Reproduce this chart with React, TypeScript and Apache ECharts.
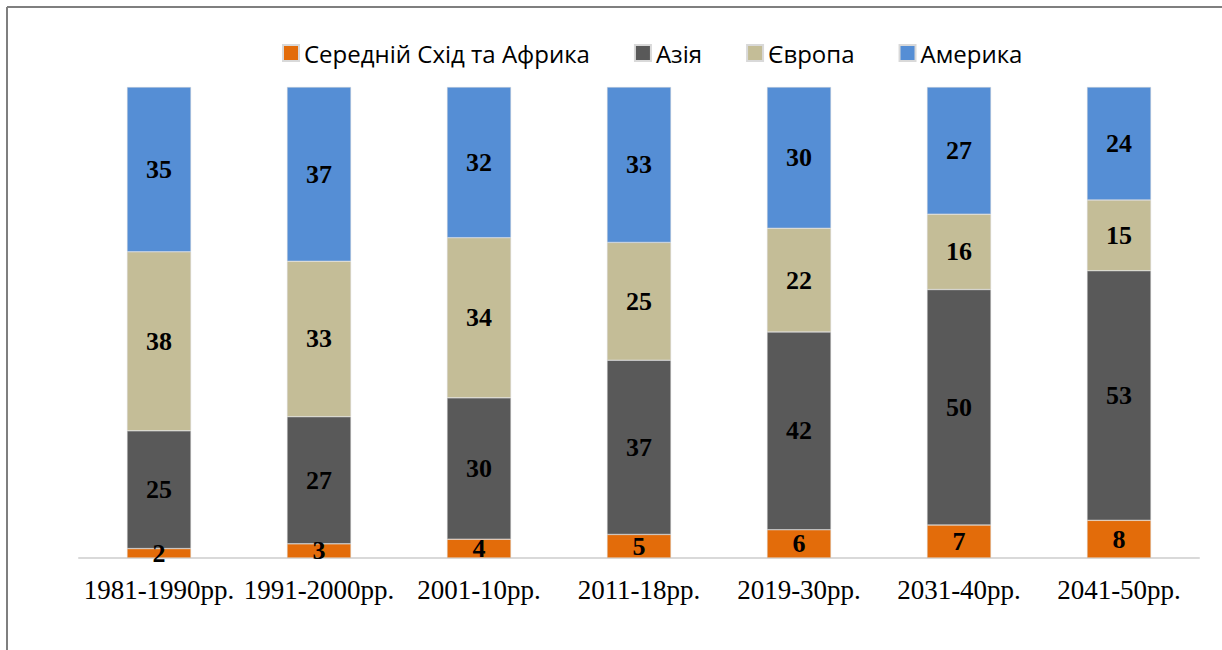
import React, { useEffect, useRef } from "react";
import * as echarts from "echarts";

const categories = ["1981-1990рр.", "1991-2000рр.", "2001-10рр.", "2011-18рр.", "2019-30рр.", "2031-40рр.", "2041-50рр."];
const middleEastAfrica = [2, 3, 4, 5, 6, 7, 8];
const asia = [25, 27, 30, 37, 42, 50, 53];
const europe = [38, 33, 34, 25, 22, 16, 15];
const america = [35, 37, 32, 33, 30, 27, 24];

const seriesNames = ["Середній Схід та Африка", "Азія", "Європа", "Америка"];
const seriesData = [middleEastAfrica, asia, europe, america];
const colors = ["#E36C0A", "#595959", "#C4BD97", "#558ED5"];

export default function App() {
  const ref = useRef<HTMLDivElement>(null);
  useEffect(() => {
    const chart = echarts.init(ref.current!, null, { renderer: "svg" });
    chart.setOption({
      animation: false,
      color: colors,
      legend: {
        top: 36,
        left: 277,
        itemWidth: 16,
        itemHeight: 16,
        itemGap: 44,
        icon: "rect",
        textStyle: { fontFamily: "Open Sans", fontSize: 24, color: "#000" },
        data: seriesNames,
      },
      grid: { left: 79, right: 23, top: 87, bottom: 92, containLabel: false },
      xAxis: {
        type: "category",
        data: categories,
        axisLine: { lineStyle: { color: "#D9D9D9", width: 2 } },
        axisTick: { show: false },
        axisLabel: { interval: 0, fontFamily: "Liberation Serif", fontSize: 27, color: "#000", margin: 18 },
      },
      yAxis: { type: "value", min: 0, max: 100, show: false },
      series: seriesNames.map((name, i) => ({
        name,
        type: "bar",
        stack: "total",
        barWidth: "40%",
        data: seriesData[i],
        itemStyle: { borderColor: "#D9D9D9", borderWidth: 0.5 },
        label: {
          show: true,
          position: "inside",
          fontFamily: "Liberation Serif",
          fontWeight: "bold",
          fontSize: 26,
          color: "#000",
        },
      })),
      graphic: [
        { type: "line", shape: { x1: 7, y1: 7, x2: 1222, y2: 7 }, style: { stroke: "#7F7F7F", lineWidth: 2 } },
        { type: "line", shape: { x1: 7, y1: 7, x2: 7, y2: 650 }, style: { stroke: "#7F7F7F", lineWidth: 2 } },
      ],
    });
    return () => chart.dispose();
  }, []);
  return (
    <div style={{ position: "fixed", left: 0, top: 0, width: 1222, height: 650, background: "#fff" }}>
      <div ref={ref} style={{ width: 1222, height: 650 }} />
    </div>
  );
}
